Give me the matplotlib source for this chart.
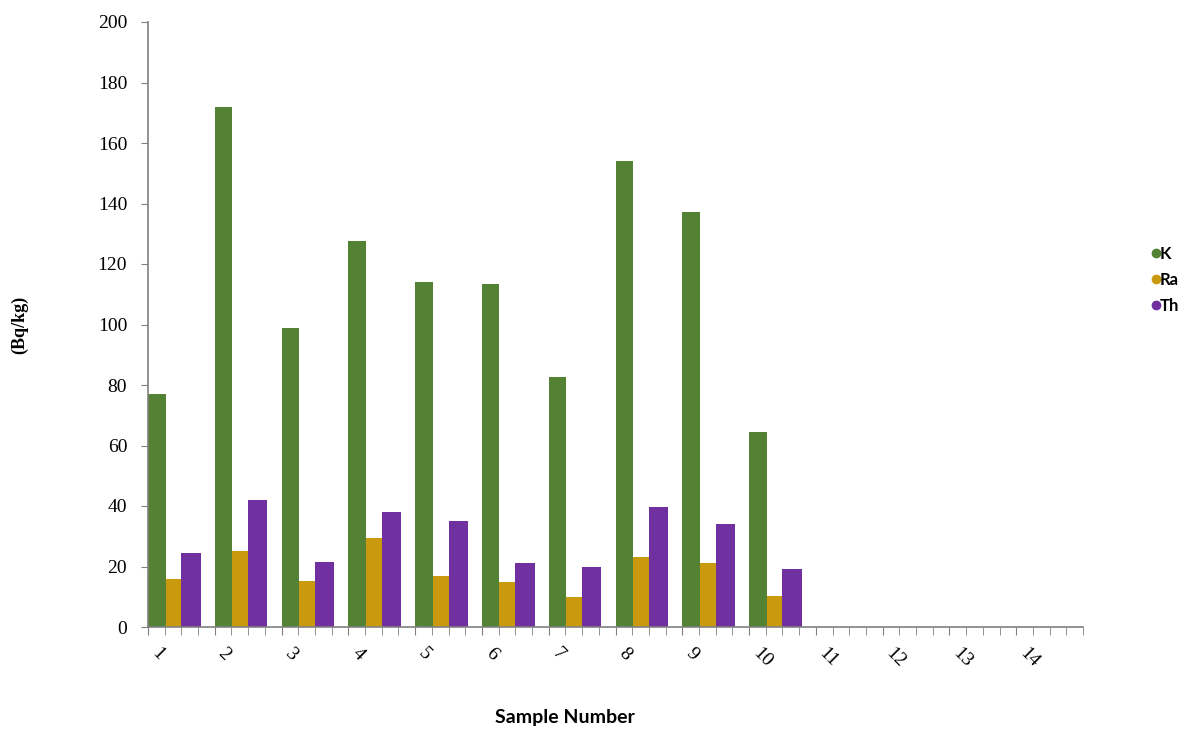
import matplotlib
matplotlib.use("Agg")
import matplotlib.pyplot as plt
import numpy as np
from matplotlib.lines import Line2D

# activity concentrations (Bq/kg) per sample
samples = [1, 2, 3, 4, 5, 6, 7, 8, 9, 10]
K = [77, 172, 99, 127.5, 114, 113.5, 82.5, 154, 137.3, 64.5]
Ra = [15.9, 25, 15.3, 29.5, 17, 14.8, 9.8, 23.3, 21, 10.3]
Th = [24.3, 42, 21.5, 38, 35.2, 21, 20, 39.7, 34, 19.3]
tick_labels = [str(i) for i in range(1, 15)]

green = "#548235"
gold = "#C99A0E"
purple = "#7030A0"
axis_grey = "#808080"

fig = plt.figure(figsize=(12.01, 7.29), dpi=100)
ax = fig.add_axes([148 / 1201, 1 - 627 / 729, (1083 - 148) / 1201, (627 - 22) / 729])

# each sample takes 4 slots: K, Ra, Th, gap
x0 = (np.array(samples) - 1) * 4
ax.bar(x0, K, width=1.05, align="edge", color=green)
ax.bar(x0 + 1.05, Ra, width=0.95, align="edge", color=gold)
ax.bar(x0 + 2.0, Th, width=1.15, align="edge", color=purple)

ax.set_xlim(0, 56)
ax.set_ylim(0, 200)
ax.set_yticks(np.arange(0, 201, 20))
ax.set_yticklabels([str(v) for v in range(0, 201, 20)], family="Liberation Serif", fontsize=14)

ax.set_xticks(np.arange(0, 57, 1), minor=True)
ax.set_xticks(np.arange(0, 56, 4))
ax.set_xticklabels(tick_labels, family="Liberation Serif", fontsize=14,
                   rotation=-45, ha="left", va="top")
ax.tick_params(axis="x", which="both", length=6, color=axis_grey, pad=7)
ax.tick_params(axis="y", length=5, color=axis_grey, pad=10)

for s in ["top", "right"]:
    ax.spines[s].set_visible(False)
for s in ["left", "bottom"]:
    ax.spines[s].set_color(axis_grey)
    ax.spines[s].set_linewidth(1.2)

fig.text(20 / 1201, 1 - 325 / 729, "(Bq/kg)", rotation=90, ha="center", va="center",
         family="Liberation Serif", fontweight="bold", fontsize=13)
fig.text(565 / 1201, 1 - 717 / 729, "Sample Number", ha="center", va="center",
         family="Lato", fontweight="bold", fontsize=14)

handles = [Line2D([], [], marker="o", linestyle="", color=c, markersize=6)
           for c in [green, gold, purple]]
leg = fig.legend(handles, ["K", "Ra", "Th"], loc="center left",
                 bbox_to_anchor=(1146 / 1201, 1 - 280 / 729), frameon=False,
                 handletextpad=-0.4, labelspacing=0.6, handlelength=1.2,
                 borderpad=0, borderaxespad=0,
                 prop={"family": "Lato", "weight": "bold", "size": 12})

fig.savefig("out.png", dpi=100)
